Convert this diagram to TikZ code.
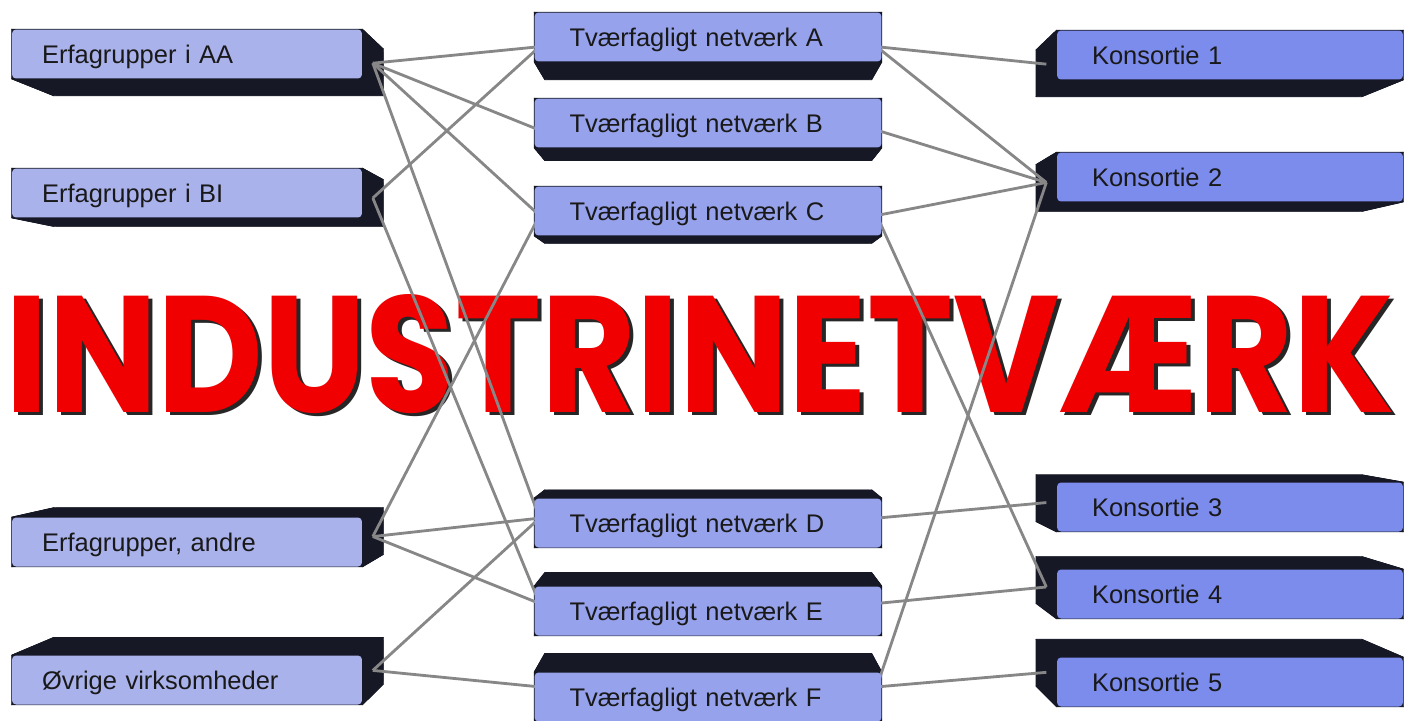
\documentclass[tikz,border=0pt]{standalone}
\usepackage{fontspec}
\usepackage{graphicx}
\setmainfont{Liberation Sans}
\newfontfamily\titlefont{Poppins}
\usetikzlibrary{calc,positioning}
\pgfdeclarelayer{title}
\pgfdeclarelayer{shade}
\pgfdeclarelayer{wires}
\pgfsetlayers{title,shade,wires,main}

\definecolor{leftface}{RGB}{170,178,236}
\definecolor{midface}{RGB}{150,162,236}
\definecolor{rightface}{RGB}{124,140,236}
\definecolor{sidedark}{RGB}{22,24,38}
\definecolor{wiregray}{RGB}{135,135,135}
\definecolor{titlered}{RGB}{240,0,0}

\tikzset{
    box/.style={rounded corners=0.08cm, minimum height=0.98cm, align=left,
        text height=10.4pt, text depth=0pt, text=black!90,
        font=\fontsize{14.5}{17}\selectfont},
    leftbox/.style={box, fill=leftface, inner xsep=0.6cm, text width=5.8cm},
    midbox/.style={box, fill=midface, inner xsep=0.7cm, text width=5.54cm},
    rightbox/.style={box, fill=rightface, inner xsep=0.7cm, text width=5.52cm},
    wire/.style={draw=wiregray, line width=1.6pt}
}

\newcommand{\sideshade}[1]{%
    \fill[sidedark, rounded corners=0.06cm]
        ($(vp)!0.94!(#1.north west)$) -- ($(vp)!0.94!(#1.north east)$) --
        ($(vp)!0.94!(#1.south east)$) -- ($(vp)!0.94!(#1.south west)$) -- cycle;
    \foreach \a/\b in {north west/north east, north east/south east,
                       south east/south west, south west/north west}
        {\filldraw[sidedark, line width=0.4pt, line join=round]
            (#1.\a) -- (#1.\b) -- ($(vp)!0.94!(#1.\b)$) -- ($(vp)!0.94!(#1.\a)$) -- cycle;}
}

\begin{document}
\begin{tikzpicture}[x=0.02cm, y=-0.02cm]
    \useasboundingbox (0,0) rectangle (1423,720);
    \coordinate (vp) at (712,360);

    \node[leftbox] (aa) at (187,54) {Erfagrupper i AA};
    \node[leftbox] (bi) at (187,193) {Erfagrupper i BI};
    \node[leftbox] (an) at (187,542) {Erfagrupper, andre};
    \node[leftbox] (ov) at (187,680) {Øvrige virksomheder};

    \node[midbox] (ta) at (708,37) {Tværfagligt netværk A};
    \node[midbox] (tb) at (708,123) {Tværfagligt netværk B};
    \node[midbox] (tc) at (708,211) {Tværfagligt netværk C};
    \node[midbox] (td) at (708,523) {Tværfagligt netværk D};
    \node[midbox] (te) at (708,611) {Tværfagligt netværk E};
    \node[midbox] (tf) at (708,697) {Tværfagligt netværk F};

    \node[rightbox] (k1) at (1230,55) {Konsortie 1};
    \node[rightbox] (k2) at (1230,177) {Konsortie 2};
    \node[rightbox] (k3) at (1230,507) {Konsortie 3};
    \node[rightbox] (k4) at (1230,594) {Konsortie 4};
    \node[rightbox] (k5) at (1230,682) {Konsortie 5};

    \begin{pgfonlayer}{title}
        \fill[white] (0,0) rectangle (1423,720);
        \node[inner sep=0, text=black!85] (shadow) at (704,357)
            {\resizebox{27.8cm}{2.36cm}{\titlefont\bfseries INDUSTRINETVÆRK}};
        \node[inner sep=0, text=titlered] (title) at (700,354)
            {\resizebox{27.8cm}{2.36cm}{\titlefont\bfseries INDUSTRINETVÆRK}};
    \end{pgfonlayer}

    \begin{pgfonlayer}{shade}
        \foreach \n in {aa,bi,an,ov,ta,tb,tc,td,te,tf,k1,k2,k3,k4,k5}
            {\sideshade{\n}}
    \end{pgfonlayer}

    \begin{pgfonlayer}{wires}
        \foreach \u/\v in {aa/ta, aa/tb, aa/tc, aa/td, bi/ta, bi/te,
                           an/tc, an/td, an/te, ov/td, ov/tf,
                           ta/k1, ta/k2, tb/k2, tc/k2, tc/k4,
                           td/k3, te/k4, tf/k2, tf/k5}
            \draw[wire] ($(vp)!0.97!(\u.east)$) -- ($(vp)!0.97!(\v.west)$);
    \end{pgfonlayer}
\end{tikzpicture}
\end{document}
